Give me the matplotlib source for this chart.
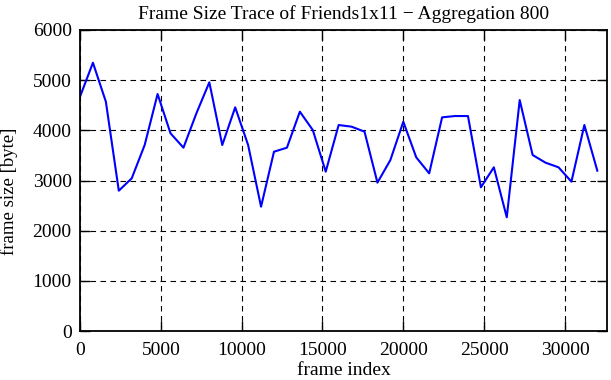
import numpy as np
import matplotlib
matplotlib.use('Agg')
from matplotlib import pyplot as plt

# frame index (aggregation 800) e dimensione del frame
frame_index = np.arange(0, 32001, 800)
frame_size = [4670, 5348, 4571, 2797, 3043, 3707, 4724, 3940, 3654, 4339,
              4957, 3707, 4458, 3707, 2478, 3574, 3654, 4372, 4006, 3176,
              4106, 4073, 3973, 2957, 3408, 4172, 3461, 3143, 4259, 4285,
              4285, 2864, 3263, 2266, 4604, 3508, 3355, 3263, 2977, 4106,
              3196]

plt.rcParams['font.family'] = ['Liberation Serif', 'DejaVu Serif']
plt.rcParams['font.size'] = 14

fig = plt.figure(figsize=(6.11, 3.80), dpi=100)
ax = fig.add_axes([80 / 611, 49 / 380, 527 / 611, 301 / 380])

ax.plot(frame_index, frame_size, color='#0000ff', linewidth=1.5)

ax.set_xlim(0, 32600)
ax.set_ylim(0, 6000)
ax.set_xticks(np.arange(0, 30001, 5000))
ax.set_yticks(np.arange(0, 6001, 1000))
ax.grid(True, color='black', linestyle=(0, (5, 4)), linewidth=0.8)
ax.tick_params(direction='in', length=7, width=1, top=True, right=True,
               labelsize=14)
ax.tick_params(axis='x', pad=8)
ax.tick_params(axis='y', pad=6)
for s in ax.spines.values():
    s.set_linewidth(1.3)

ax.set_xlabel('frame index', fontsize=14, labelpad=2)
ax.set_ylabel('frame size [byte]', fontsize=13.5)
ax.yaxis.set_label_coords(-0.118, 0.465)
ax.set_title('Frame Size Trace of Friends1x11 \u2212 Aggregation 800',
             fontsize=14, pad=8)

fig.savefig('out.png', dpi=100)
